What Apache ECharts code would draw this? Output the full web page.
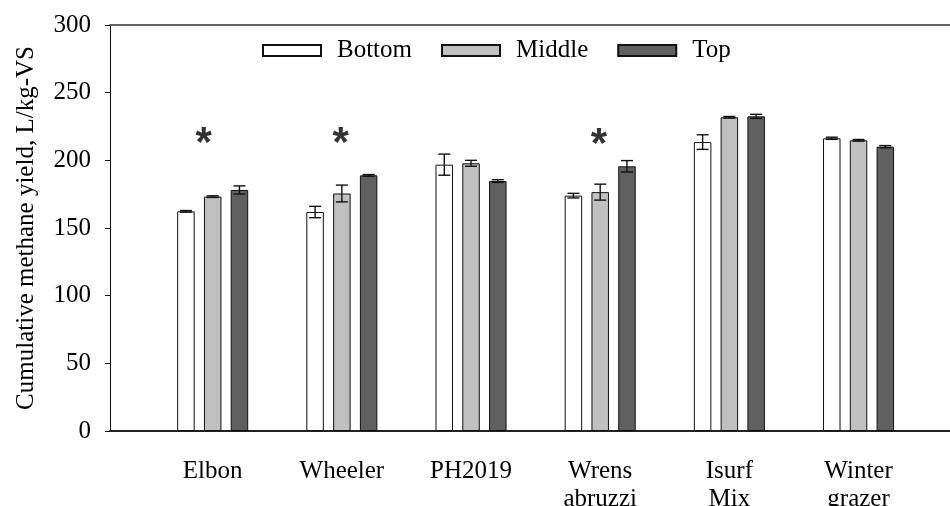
<!DOCTYPE html>
<html><head><meta charset="utf-8">
<script src="https://cdn.jsdelivr.net/npm/echarts@6/dist/echarts.min.js"></script>
<style>html,body{margin:0;padding:0;background:#fff}#c{width:950px;height:506px}</style>
</head><body><div id="c"></div>
<script>
const categories = ['Elbon', 'Wheeler', 'PH2019', 'Wrens\nabruzzi', 'Isurf\nMix', 'Winter\ngrazer'];
const seriesNames = ['Bottom', 'Middle', 'Top'];
const bottomVals = [162.3, 161.8, 196.8, 173.9, 213.5, 216.3];
const bottomErr  = [0.6, 4.2, 7.8, 1.7, 5.4, 0.8];
const middleVals = [173.2, 175.5, 197.8, 176.5, 231.8, 214.8];
const middleErr  = [0.6, 6.2, 2.2, 5.9, 0.6, 0.6];
const topVals    = [178.1, 188.9, 184.7, 195.6, 232.5, 210.1];
const topErr     = [3.0, 0.6, 1.0, 4.2, 1.5, 0.8];
const sigX = [-0.07, 0.99, 2.99];
const sigY = [212, 212, 211];
const yTicks = [0, 50, 100, 150, 200, 250, 300];

const FONT = "'Liberation Serif', 'Times New Roman', serif";
const catPos = categories.map((_, i) => i);
const vals = [bottomVals, middleVals, topVals];
const errs = [bottomErr, middleErr, topErr];
const colors = ['#ffffff', '#c0c0c0', '#606060'];
const BAR_W = 17.5, STEP = 26.75;

const chart = echarts.init(document.getElementById('c'), null, {renderer: 'canvas'});

const barSeries = seriesNames.map((name, s) => ({
  name, type: 'bar', xAxisIndex: 0, yAxisIndex: 0,
  barWidth: BAR_W, barGap: '53%',
  itemStyle: {color: colors[s], borderColor: '#111', borderWidth: 1},
  emphasis: {disabled: true},
  data: catPos.map((x, i) => [x, vals[s][i]]),
  z: 2
}));

const errSeries = seriesNames.map((name, s) => ({
  type: 'custom', xAxisIndex: 0, yAxisIndex: 0, z: 5, silent: true,
  data: catPos.map((x, i) => [x, vals[s][i], errs[s][i]]),
  renderItem: function (params, api) {
    const x = api.value(0), y = api.value(1), e = api.value(2);
    const hi = api.coord([x, y + e]);
    const lo = api.coord([x, y - e]);
    const cx = hi[0] + (s - 1) * STEP;
    const st = {stroke: '#111', lineWidth: 1.4};
    return {type: 'group', children: [
      {type: 'line', shape: {x1: cx, y1: hi[1], x2: cx, y2: lo[1]}, style: st},
      {type: 'line', shape: {x1: cx - 6, y1: hi[1], x2: cx + 6, y2: hi[1]}, style: st},
      {type: 'line', shape: {x1: cx - 6, y1: lo[1], x2: cx + 6, y2: lo[1]}, style: st}
    ]};
  }
}));

const sigSeries = {
  type: 'scatter', xAxisIndex: 0, yAxisIndex: 0, z: 6, silent: true,
  symbol: 'circle', symbolSize: 2, itemStyle: {color: 'rgba(0,0,0,0)'},
  label: {show: true, position: 'inside', formatter: '*', color: '#000',
    fontFamily: "'Liberation Sans', Arial, sans-serif", fontWeight: 'bold', fontSize: 42},
  data: sigX.map((x, i) => [x, sigY[i]])
};

chart.setOption({
  animation: false,
  backgroundColor: '#fff',
  textStyle: {fontFamily: FONT, color: '#000'},
  grid: {left: 110, right: 0, top: 25, bottom: 75, containLabel: false, outerBoundsMode: 'none'},
  legend: {
    data: seriesNames, left: 262, top: 38, icon: 'rect', padding: 0,
    itemWidth: 58, itemHeight: 11, itemGap: 29,
    textStyle: {fontFamily: FONT, fontSize: 25, color: '#000', padding: [0, 0, 0, 11]},
    selectedMode: false
  },
  xAxis: [{
    type: 'value', min: -0.795, max: 5.708, position: 'bottom',
    axisLine: {show: true, onZero: false, lineStyle: {color: '#222', width: 2}},
    axisTick: {show: false}, splitLine: {show: false},
    axisLabel: {
      customValues: catPos, margin: 26, lineHeight: 28,
      fontFamily: FONT, fontSize: 25, color: '#000', align: 'center',
      formatter: v => categories[Math.round(v)]
    }
  }, {
    type: 'value', min: -0.795, max: 5.708, position: 'top',
    axisLine: {show: true, onZero: false, lineStyle: {color: '#333', width: 1.5}},
    axisTick: {show: false}, axisLabel: {show: false}, splitLine: {show: false}
  }],
  yAxis: {
    type: 'value', min: yTicks[0], max: yTicks[yTicks.length - 1], interval: 50,
    name: 'Cumulative methane yield, L/kg-VS', nameLocation: 'middle', nameGap: 71,
    nameTextStyle: {fontFamily: FONT, fontSize: 25, color: '#000'},
    axisLine: {show: true, onZero: false, lineStyle: {color: '#111', width: 1}},
    axisTick: {show: true, inside: false, length: 5, lineStyle: {color: '#111'}},
    splitLine: {show: false},
    axisLabel: {margin: 19, fontFamily: FONT, fontSize: 25, color: '#000'}
  },
  series: [...barSeries, ...errSeries, sigSeries]
});
</script></body></html>
